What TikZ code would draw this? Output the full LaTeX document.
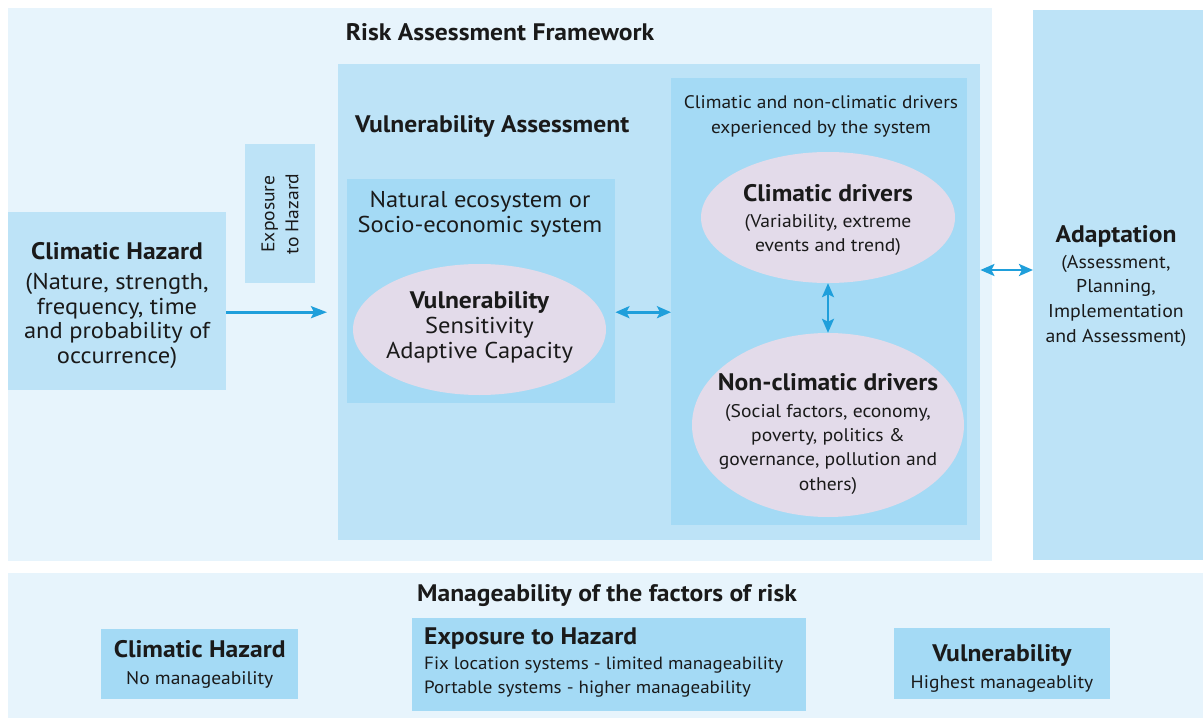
\documentclass[tikz,border=0pt]{standalone}
\usepackage{fontspec}
\setmainfont{PT Sans}[FakeStretch=1.07]
\usetikzlibrary{arrows.meta,shapes.geometric}
\definecolor{bgL}{HTML}{E7F4FC}
\definecolor{boxM}{HTML}{BDE3F7}
\definecolor{boxD}{HTML}{A4DAF5}
\definecolor{ellC}{HTML}{E3DBEA}
\definecolor{arrC}{HTML}{1F9FDB}
\definecolor{txtC}{HTML}{1A1A1A}
\newcommand{\fs}[2]{\fontsize{#1}{#2}\selectfont}
\begin{document}
\begin{tikzpicture}[x=1bp,y=-1bp,
  panel/.style={fill=#1, draw=none, inner sep=0pt, anchor=north west},
  ell/.style={ellipse, fill=ellC, draw=none, inner sep=0pt},
  txt/.style={text=txtC, inner sep=0pt, align=center},
  arr/.style={draw=arrC, line width=2.6bp, -{Stealth[length=16bp,width=12bp,inset=3bp]}},
  arrb/.style={draw=arrC, line width=2.6bp, {Stealth[length=14bp,width=12bp,inset=3bp]}-{Stealth[length=14bp,width=12bp,inset=3bp]}}
]
\useasboundingbox (0,0) rectangle (1203,720);
\fill[white] (0,0) rectangle (1203,720);

% panels
\node[panel=bgL, minimum width=984bp, minimum height=553bp] (raf) at (8,8) {};
\node[panel=boxM, minimum width=170bp, minimum height=550bp] (adapt) at (1033,10) {};
\node[panel=bgL, minimum width=1195bp, minimum height=145bp] (man) at (8,573) {};
\node[panel=boxM, minimum width=218bp, minimum height=178bp] (hazard) at (8,212) {};
\node[panel=boxM, minimum width=70bp, minimum height=139bp] (expo) at (245,144) {};
\node[panel=boxM, minimum width=642bp, minimum height=476bp] (vabox) at (338,64) {};
\node[panel=boxD, minimum width=268bp, minimum height=224bp] (nat) at (347,179) {};
\node[panel=boxD, minimum width=296bp, minimum height=447bp] (drv) at (671,78) {};

% ellipses
\node[ell, minimum width=253bp, minimum height=131bp] (vul) at (479.5,329.5) {};
\node[ell, minimum width=254bp, minimum height=131bp] (cd) at (828,217.5) {};
\node[ell, minimum width=272bp, minimum height=184bp] (ncd) at (828,425) {};

% bottom boxes
\node[panel=boxD, minimum width=197bp, minimum height=70bp] (bh) at (101,629) {};
\node[panel=boxD, minimum width=394bp, minimum height=93bp] (be) at (412,618) {};
\node[panel=boxD, minimum width=216bp, minimum height=71bp] (bv) at (894,628) {};

% texts
\node[txt, font=\fs{24}{25}\bfseries] (traf) at (500,32) {Risk Assessment Framework};
\node[txt, font=\fs{24}{25}\bfseries, anchor=west] (tva) at (355,126) {Vulnerability Assessment};
\node[txt, font=\fs{23}{25}] (thaz) at (117,305.5) {{\bfseries\fs{24}{25}Climatic Hazard}\\[5bp](Nature, strength,\\frequency, time\\and probability of\\occurrence)};
\node[txt, font=\fs{18.4}{24}, rotate=90] (texpo) at (280,214) {Exposure\\to Hazard};
\node[txt, font=\fs{23}{25}] (tnat) at (480,214) {Natural ecosystem or\\Socio-economic system};
\node[txt, font=\fs{23}{25}] (tvul) at ([yshift=2bp]vul.center) {{\bfseries\fs{24}{25}Vulnerability}\\Sensitivity\\Adaptive Capacity};
\node[txt, font=\fs{18.2}{25}] (tdrv) at (821,116) {Climatic and non-climatic drivers\\experienced by the system};
\node[txt, font=\fs{18.4}{25}] (tcd) at ([yshift=-2.5bp]cd.center) {{\bfseries\fs{24}{25}Climatic drivers}\\[1bp](Variability, extreme\\events and trend)};
\node[txt, font=\fs{18.4}{24.5}] (tncd) at (828,434) {{\bfseries\fs{24}{25}Non-climatic drivers}\\[2bp](Social factors, economy,\\poverty, politics \&\\governance, pollution and\\others)};
\node[txt, font=\fs{18.6}{25}] (tad) at (1116,286) {{\bfseries\fs{24}{25}Adaptation}\\[1bp](Assessment,\\Planning,\\Implementation\\and Assessment)};

\node[txt, font=\fs{24}{25}\bfseries] (tman) at (607,596) {Manageability of the factors of risk};
\node[txt, font=\fs{18.3}{27}] (tbh) at (bh.center) {{\bfseries\fs{24}{25}Climatic Hazard}\\No manageability};
\node[txt, font=\fs{17.8}{24}, align=left, anchor=west] (tbe) at (424,662.5) {{\bfseries\fs{24}{25}Exposure to Hazard}\\[1bp]Fix location systems - limited manageability\\Portable systems - higher manageability};
\node[txt, font=\fs{18.3}{27}] (tbv) at (1002,668.5) {{\bfseries\fs{24}{25}Vulnerability}\\Highest manageablity};

% connectors
\coordinate (ay) at (0,270);
\draw[arr] ([yshift=-11bp]hazard.east) -- ([yshift=-11bp,xshift=-11bp]hazard.east -| vabox.west);
\draw[arrb] ([yshift=-21bp]nat.east) -- ([yshift=-21bp]nat.east -| drv.west);
\draw[arrb] (cd.south) -- (ncd.north);
\draw[arrb] (vabox.east |- ay) -- (adapt.west |- ay);
\end{tikzpicture}
\end{document}
